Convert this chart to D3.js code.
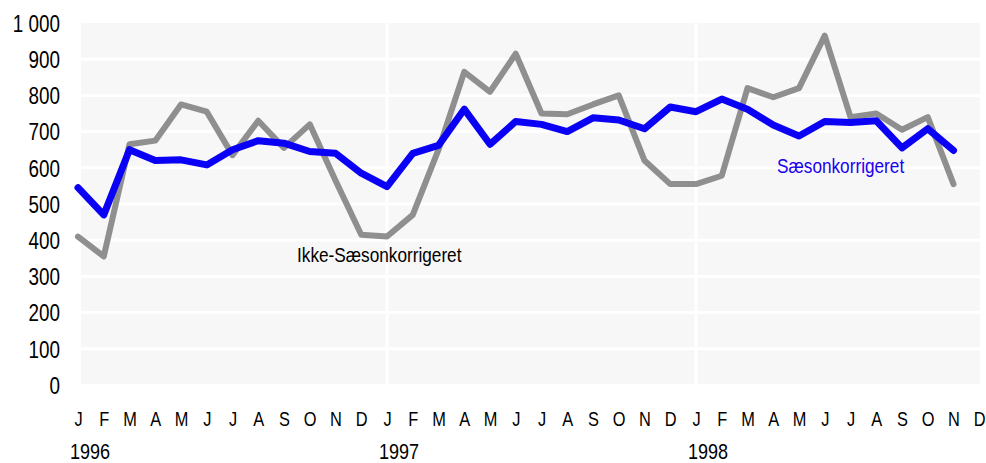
<!DOCTYPE html>
<html>
<head>
<meta charset="utf-8">
<script src="https://cdn.jsdelivr.net/npm/d3@7"></script>
<style>
  html, body { margin: 0; padding: 0; background: #ffffff; }
  svg { display: block; }
  text { font-family: "Liberation Sans Narrow", "Arial Narrow", "Liberation Sans", Arial, sans-serif; fill: #000; }
</style>
</head>
<body>
<svg id="chart" width="986" height="463"></svg>
<script>
const monthLabels = ["J","F","M","A","M","J","J","A","S","O","N","D"];
const years = ["1996","1997","1998"];
const yTicks = [0,100,200,300,400,500,600,700,800,900,1000];

// Ikke-Sæsonkorrigeret (Jan 1996 – Nov 1998)
const ikkeSaeson = [410,355,665,675,775,755,635,730,655,720,565,415,
                    410,470,650,865,810,915,750,748,775,800,620,555,
                    555,578,820,795,820,965,740,750,705,740,555];
// Sæsonkorrigeret (Jan 1996 – Nov 1998)
const saeson = [545,470,650,620,622,608,650,675,668,645,640,585,
                548,640,662,762,665,728,720,700,738,732,708,768,
                755,790,762,718,688,728,725,730,655,708,648];

const W = 986, H = 463;
const plot = {left: 81, right: 980, top: 23, bottom: 385};
const SX = 0.82; // horizontal condensing to mimic a narrow typeface
const svg = d3.select("#chart");

const x = d3.scaleLinear().domain([0, 35]).range([78, 78 + 35 * 25.75]);
const y = d3.scaleLinear().domain([0, 1000]).range([385, 23]);

function condense(sel) {
  sel.each(function() {
    const t = d3.select(this);
    const xv = +(t.attr("x") || 0);
    t.attr("x", xv / SX).attr("transform", `scale(${SX},1)`);
  });
}

// background
svg.append("rect")
  .attr("x", plot.left).attr("y", plot.top)
  .attr("width", plot.right - plot.left).attr("height", plot.bottom - plot.top - 1)
  .attr("fill", "#f7f7f7");

// horizontal gridlines
svg.append("g").selectAll("line").data(yTicks.filter(d => d > 0 && d < 1000)).join("line")
  .attr("x1", plot.left).attr("x2", plot.right)
  .attr("y1", d => y(d)).attr("y2", d => y(d))
  .attr("stroke", "#ffffff").attr("stroke-width", 3);

// vertical year separators
svg.append("g").selectAll("line").data([12, 24]).join("line")
  .attr("x1", d => x(d)).attr("x2", d => x(d))
  .attr("y1", plot.top).attr("y2", plot.bottom - 1)
  .attr("stroke", "#ffffff").attr("stroke-width", 3);

// y axis
const loc = d3.formatLocale({decimal: ",", thousands: "\u00a0", grouping: [3], currency: ["", ""]});
const fmt = loc.format(",d");
const yAxis = svg.append("g")
  .attr("transform", `translate(${plot.left},0)`)
  .call(d3.axisLeft(y).tickValues(yTicks).tickSize(0).tickPadding(21).tickFormat(fmt));
yAxis.select(".domain").remove();
yAxis.selectAll("text").attr("font-size", 23).attr("font-family", null).attr("dy", "0.36em").call(condense);

// x axis (months)
const xAxis = svg.append("g")
  .attr("transform", `translate(0,385)`)
  .call(d3.axisBottom(x).tickValues(d3.range(36)).tickSize(0).tickPadding(27)
    .tickFormat(i => monthLabels[i % 12]));
xAxis.select(".domain").remove();
xAxis.selectAll("text").attr("font-size", 20).attr("font-family", null).call(condense);

// years
svg.append("g").selectAll("text").data(years).join("text")
  .attr("x", (d, i) => x(i * 12) - 8)
  .attr("y", 459)
  .attr("font-size", 22)
  .text(d => d)
  .call(condense);

const line = d3.line().x((d, i) => x(i)).y(d => y(d));

svg.append("path").datum(ikkeSaeson)
  .attr("d", line).attr("fill", "none")
  .attr("stroke", "#8f8f8f").attr("stroke-width", 6)
  .attr("stroke-linejoin", "round").attr("stroke-linecap", "round");

svg.append("path").datum(saeson)
  .attr("d", line).attr("fill", "none")
  .attr("stroke", "#0a00f5").attr("stroke-width", 7)
  .attr("stroke-linejoin", "round").attr("stroke-linecap", "round");

// labels
svg.append("text").attr("x", 297).attr("y", 262).attr("font-size", 21)
  .text("Ikke-Sæsonkorrigeret").call(condense);
svg.append("text").attr("x", 777).attr("y", 173).attr("font-size", 21)
  .style("fill", "#1a00f0")
  .text("Sæsonkorrigeret").call(condense);
</script>
</body>
</html>
